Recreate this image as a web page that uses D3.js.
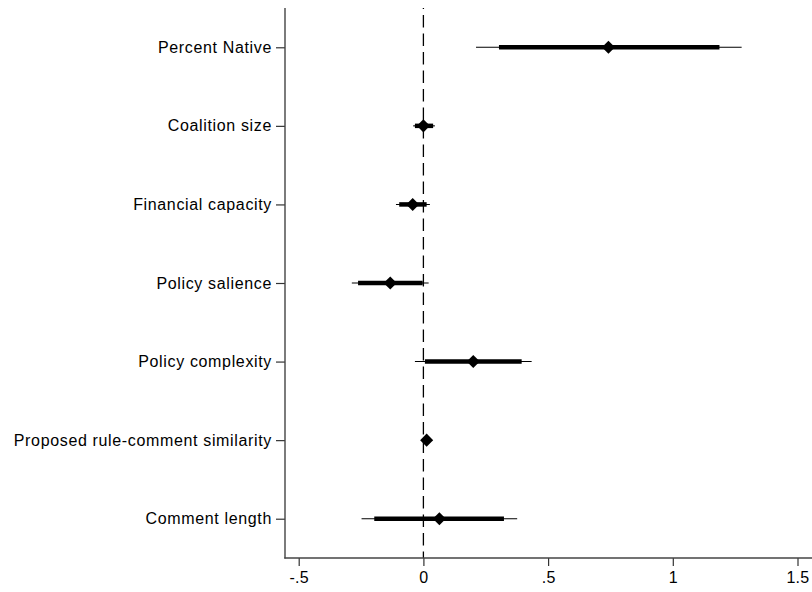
<!DOCTYPE html>
<html>
<head>
<meta charset="utf-8">
<script src="https://cdn.jsdelivr.net/npm/d3@7"></script>
<style>
  html, body { margin: 0; padding: 0; background: #fff; }
  svg { display: block; }
  text { font-family: "Liberation Sans", Arial, Helvetica, sans-serif; fill: #000; }
</style>
</head>
<body>
<svg id="chart" width="812" height="592"></svg>
<script>
const categories = ["Percent Native", "Coalition size", "Financial capacity", "Policy salience",
                    "Policy complexity", "Proposed rule-comment similarity", "Comment length"];
const estimates = [0.742, 0.000, -0.043, -0.133, 0.200, 0.013, 0.064];
const ci95Low  = [0.211, -0.041, -0.110, -0.287, -0.034, 0.008, -0.248];
const ci95High = [1.276, 0.046, 0.026, 0.021, 0.434, 0.018, 0.376];
const ci90Low  = [0.303, -0.034, -0.097, -0.262, 0.006, 0.010, -0.197];
const ci90High = [1.187, 0.039, 0.013, -0.003, 0.394, 0.016, 0.323];
const xTicks = [-0.5, 0, 0.5, 1, 1.5];
const xTickLabels = ["-.5", "0", ".5", "1", "1.5"];

const svg = d3.select("#chart");
const mLeft = 285, mRight = 812, mTop = 8, mBottom = 558;

const x = d3.scaleLinear().domain([-0.5, 1.5]).range([298.7, 797.5]);
const y = d3.scalePoint().domain(categories).range([mTop, mBottom]).padding(0.5);

const data = categories.map((c, i) => ({
  c, est: estimates[i], lo95: ci95Low[i], hi95: ci95High[i], lo90: ci90Low[i], hi90: ci90High[i]
}));

// reference line at zero
svg.append("line")
  .attr("x1", x(0)).attr("x2", x(0)).attr("y1", mTop).attr("y2", mBottom)
  .attr("stroke", "#000").attr("stroke-width", 1.3)
  .attr("stroke-dasharray", "12.5,6").attr("stroke-dashoffset", 11.5);

// thin CIs
svg.append("g").selectAll("line").data(data).join("line")
  .attr("x1", d => x(d.lo95)).attr("x2", d => x(d.hi95))
  .attr("y1", d => y(d.c)).attr("y2", d => y(d.c))
  .attr("stroke", "#000").attr("stroke-width", 1.1);

// thick CIs
svg.append("g").selectAll("line").data(data).join("line")
  .attr("x1", d => x(d.lo90)).attr("x2", d => x(d.hi90))
  .attr("y1", d => y(d.c)).attr("y2", d => y(d.c))
  .attr("stroke", "#000").attr("stroke-width", 4.5);

// diamonds
const sym = d3.symbol().type(d3.symbolSquare).size(85);
svg.append("g").selectAll("path").data(data).join("path")
  .attr("d", sym)
  .attr("transform", d => `translate(${x(d.est)},${y(d.c)}) rotate(45)`)
  .attr("fill", "#000");

// y axis
const yAxis = d3.axisLeft(y).tickSize(9).tickPadding(4);
const gy = svg.append("g").attr("transform", `translate(${mLeft},0)`).call(yAxis);
gy.select(".domain").remove();
gy.selectAll(".tick line").attr("stroke", "#333").attr("stroke-width", 1.2);
gy.selectAll(".tick text").style("font-size", "16px").style("letter-spacing", "0.65px")
  .style("font-family", "'Liberation Sans', Arial, sans-serif").attr("fill", "#000");
svg.append("line").attr("x1", mLeft).attr("x2", mLeft).attr("y1", mTop).attr("y2", mBottom + 0.6)
  .attr("stroke", "#444").attr("stroke-width", 1.4);

// x axis
const xAxis = d3.axisBottom(x).tickValues(xTicks).tickFormat((d, i) => xTickLabels[i])
  .tickSize(8).tickPadding(6);
const gx = svg.append("g").attr("transform", `translate(0,${mBottom})`).call(xAxis);
gx.select(".domain").remove();
gx.selectAll(".tick line").attr("stroke", "#333").attr("stroke-width", 1.2);
gx.selectAll(".tick text").style("font-size", "16px").style("letter-spacing", "0.3px")
  .style("font-family", "'Liberation Sans', Arial, sans-serif").attr("fill", "#000");
svg.append("line").attr("x1", mLeft - 0.7).attr("x2", mRight).attr("y1", mBottom).attr("y2", mBottom)
  .attr("stroke", "#444").attr("stroke-width", 1.4);
</script>
</body>
</html>
